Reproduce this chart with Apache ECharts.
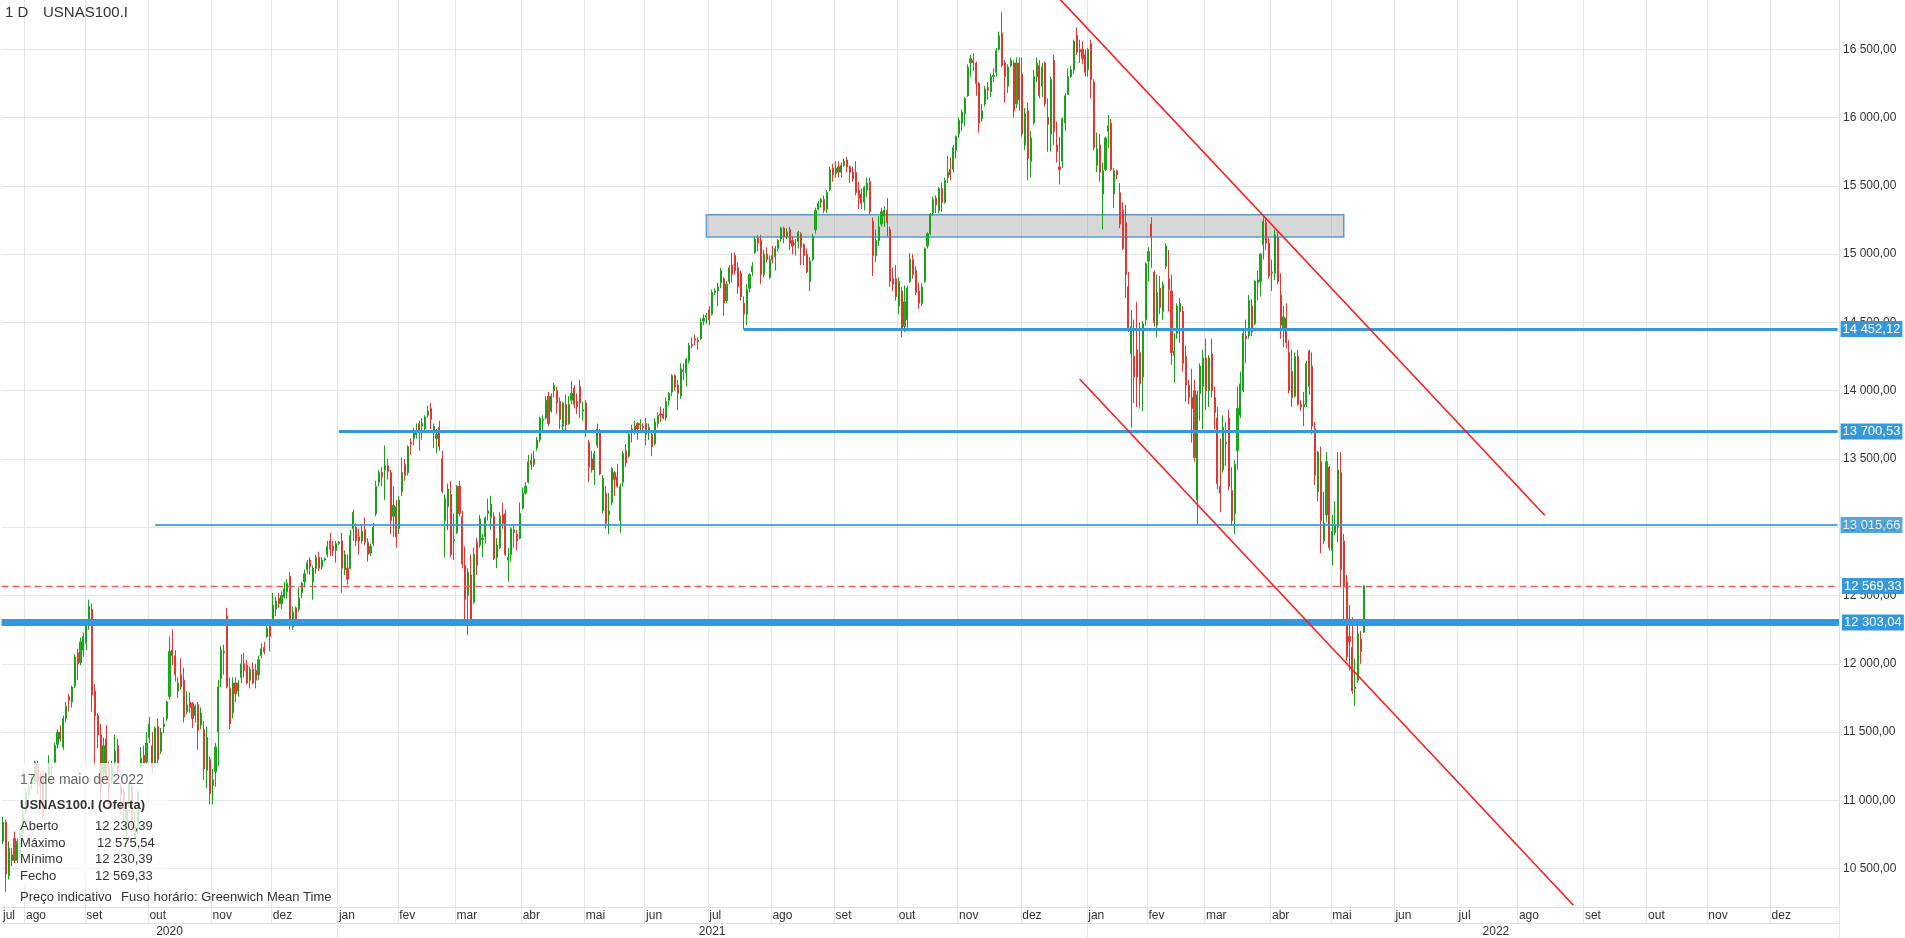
<!DOCTYPE html>
<html><head><meta charset="utf-8">
<script src="https://cdn.jsdelivr.net/npm/echarts@6/dist/echarts.min.js"></script>
<style>html,body{margin:0;padding:0;background:#fff;overflow:hidden}#c{width:1905px;height:938px}</style>
</head><body><div id="c"></div>
<script>
// ---- candles [open, close, low, high], one array per month ----
const m2020_07=[[10700,10840,10680,10880],[10840,10460,10330,10860],[10450,10650,10420,10700],[10560,10600,10520,10650],[10720,10560,10540,10770],[10560,10700,10540,10720],[10600,10760,10560,10790],[10760,10900,10700,10930]];
const m2020_08=[[10920,11060,10900,11090],[11040,11100,11010,11120],[11120,11150,11080,11200],[11140,11280,11120,11290],[11270,11140,11040,11290],[11180,11100,10980,11200],[11170,10890,10870,11220],[10940,11180,10930,11210],[11190,11250,11170,11330],[11250,11240,11180,11270],[11280,11400,11270,11420],[11410,11500,11380,11520],[11500,11450,11430,11550],[11390,11600,11370,11620],[11600,11690,11570,11720],[11760,11730,11650,11780],[11720,11830,11680,11840],[11840,12050,11820,12070],[12080,12000,11880,12110],[12010,12160,11990,12190],[12100,12200,12050,12230]];
const m2020_09=[[12150,12290,12100,12310],[12300,12420,12250,12470],[12400,11770,11650,12440],[11800,11620,11250,11850],[11620,11480,11380,11640],[11480,11090,11000,11560],[11200,11400,11150,11460],[11450,11180,11130,11550],[11240,11090,10950,11280],[11150,11240,11120,11290],[11280,11360,11250,11480],[11400,11200,11190,11450],[11100,11040,10900,11130],[11060,10940,10850,11080],[10800,10930,10680,10960],[10950,11120,10900,11150],[11100,10780,10760,11130],[10720,10810,10650,10920],[10800,11060,10760,11080],[11250,11310,11240,11390],[11330,11270,11250,11400],[11280,11420,11260,11500]];
const m2020_10=[[11460,11560,11420,11610],[11400,11240,11200,11500],[11270,11530,11250,11540],[11540,11300,11260,11600],[11360,11500,11340,11530],[11540,11560,11490,11610],[11600,11720,11580,11730],[11760,12090,11740,12200],[12100,12060,11990,12250],[12060,11920,11870,12100],[11800,11860,11750,11900],[11920,11830,11810,12040],[11880,11610,11570,11970],[11650,11700,11630,11800],[11720,11680,11640,11790],[11710,11600,11530,11720],[11620,11690,11570,11700],[11700,11510,11370,11720],[11550,11640,11520,11680],[11520,11230,11150,11580],[11220,11460,11090,11540],[11300,11050,10970,11320]];
const m2020_11=[[11110,11150,10970,11230],[11210,11390,11100,11420],[11500,11830,11250,11880],[11890,12100,11830,12130],[12080,12090,11920,12140],[12350,11830,11820,12410],[11820,11560,11520,11900],[11640,11860,11600,11900],[11860,11780,11720,11900],[11800,11860,11760,11880],[11900,12000,11860,12070],[12000,11950,11900,12080],[11990,11860,11850,12030],[11880,11960,11820,11980],[11960,11860,11850,12010],[11950,11880,11820,12000],[11920,12030,11880,12060],[12060,12110,12040,12150],[12120,12090,12070,12160],[12200,12260,12190,12290],[12290,12200,12090,12300]];
const m2020_12=[[12330,12430,12320,12520],[12400,12460,12350,12490],[12480,12440,12410,12520],[12440,12500,12400,12530],[12490,12550,12480,12600],[12530,12590,12480,12620],[12640,12290,12250,12670],[12270,12380,12250,12420],[12410,12330,12300,12420],[12400,12480,12380,12560],[12520,12590,12480,12600],[12600,12660,12560,12690],[12690,12740,12660,12760],[12760,12710,12650,12780],[12600,12700,12470,12720],[12700,12780,12660,12800],[12780,12700,12680,12820],[12710,12760,12690,12780],[12760,12770,12750,12780],[12800,12860,12780,12900],[12900,12840,12790,12960],[12860,12830,12790,12900],[12830,12880,12740,12900]];
const m2021_01=[[12880,12890,12870,12900],[12900,12700,12520,12960],[12690,12800,12650,12830],[12700,12620,12580,12800],[12700,12940,12690,12980],[12990,13110,12900,13130],[13000,12900,12860,13030],[12930,12900,12800,12990],[12900,12970,12880,13020],[12980,12890,12870,13070],[12890,12800,12750,12920],[12810,12860,12790,12880],[12880,13000,12860,13030],[13100,13300,13080,13340],[13330,13400,13300,13420],[13400,13370,13300,13440],[13420,13450,13200,13600],[13450,13410,13350,13500],[13400,13050,12950,13420],[13080,13160,12930,13300],[13150,12930,12850,13200]];
const m2021_02=[[12990,13200,12950,13230],[13260,13400,13230,13510],[13460,13380,13340,13500],[13400,13590,13380,13600],[13620,13610,13530,13650],[13650,13700,13600,13730],[13680,13710,13650,13760],[13760,13700,13560,13780],[13740,13760,13640,13800],[13720,13810,13690,13820],[13820,13850,13800,13890],[13870,13790,13720,13910],[13690,13740,13580,13760],[13650,13680,13540,13720],[13730,13590,13560,13780],[13500,13260,13250,13560],[13050,13210,12780,13240],[13150,13280,12980,13320],[13240,12800,12780,13340],[12900,12910,12760,13100]];
const m2021_03=[[12960,13300,12950,13310],[13300,13100,13080,13340],[13080,12730,12700,13120],[12720,12470,12320,12860],[12500,12670,12210,12700],[12650,12300,12280,12800],[12450,12800,12440,12850],[12890,12720,12650,12920],[12870,13060,12850,13090],[12910,12920,12780,12950],[12930,13070,12880,13080],[13100,13120,13050,13210],[13070,13170,12980,13230],[13080,12770,12760,13110],[12780,12870,12700,12920],[12850,13080,12840,13110],[13090,13030,12990,13180],[13100,12800,12790,13130],[12760,12780,12600,12850],[12800,12990,12750,13000],[12960,12980,12850,13020],[12950,12900,12830,12980],[12920,13100,12910,13180]];
const m2021_04=[[13140,13250,13130,13290],[13250,13300,13240,13330],[13330,13480,13320,13530],[13490,13460,13420,13540],[13460,13500,13440,13560],[13580,13640,13560,13660],[13640,13800,13620,13810],[13780,13790,13710,13820],[13800,13930,13790,13960],[13960,13760,13740,13990],[13850,13960,13840,13980],[14000,14040,13950,14060],[14000,13910,13830,14030],[13920,13790,13720,13950],[13740,13910,13710,13920],[13900,13750,13700,13970],[13760,13900,13750,13960],[13930,13980,13900,14070],[14020,13900,13870,14040],[13920,13880,13830,13980],[14030,13910,13800,14080],[13850,13860,13780,13920]];
const m2021_05=[[13910,13700,13660,13930],[13620,13440,13330,13640],[13500,13420,13400,13560],[13420,13540,13310,13560],[13600,13720,13580,13760],[13700,13390,13380,13720],[13120,13360,13100,13380],[13250,13030,12990,13300],[13090,13120,12950,13250],[13180,13430,13160,13440],[13400,13350,13230,13410],[13370,13300,13290,13460],[13050,13300,12960,13320],[13330,13540,13300,13560],[13560,13470,13440,13610],[13520,13680,13510,13700],[13720,13700,13620,13750],[13710,13740,13680,13780],[13760,13720,13640,13770],[13750,13760,13700,13790],[13740,13730,13710,13760]];
const m2021_06=[[13760,13680,13600,13800],[13690,13730,13640,13760],[13680,13590,13520,13700],[13610,13770,13600,13800],[13760,13820,13730,13840],[13830,13820,13770,13880],[13830,13800,13790,13870],[13800,13920,13780,13950],[13930,13980,13890,13990],[13990,14110,13960,14120],[14110,14030,14000,14120],[14040,13980,13860,14080],[13960,14160,13940,14200],[14140,14150,14080,14200],[14130,14230,14030,14240],[14220,14330,14200,14350],[14340,14330,14310,14390],[14380,14370,14330,14410],[14370,14360,14300,14390],[14380,14500,14370,14530],[14510,14530,14480,14560],[14540,14550,14490,14570]];
const m2021_07=[[14590,14520,14480,14620],[14560,14720,14550,14740],[14720,14730,14700,14750],[14730,14760,14620,14790],[14790,14880,14750,14900],[14820,14640,14550,14830],[14660,14780,14640,14800],[14800,14900,14780,14920],[14920,14850,14790,15010],[14990,14880,14850,15010],[14900,14760,14710,14940],[14860,14690,14660,14880],[14640,14560,14450,14690],[14560,14740,14480,14780],[14750,14850,14720,14860],[14870,14910,14840,14940],[15010,15110,15000,15130],[15120,15080,15020,15140],[15100,14850,14780,15140],[14850,15000,14830,15030],[15000,14960,14940,15050],[14830,14960,14820,14990]];
const m2021_08=[[14990,14960,14930,15060],[14980,15040,14880,15060],[15040,15100,15020,15110],[15110,15190,15090,15200],[15190,15130,15080,15200],[15130,15160,15110,15190],[15180,15080,15030,15200],[15100,15060,15000,15130],[15070,15080,14990,15110],[15090,15160,15040,15170],[15150,15050,14920,15160],[15070,14990,14920,15080],[15000,14870,14860,15040],[14800,14950,14730,14980],[14960,15130,14950,15150],[15180,15320,15150,15340],[15330,15370,15320,15390],[15380,15400,15340,15410],[15400,15320,15300,15430],[15330,15450,15300,15470],[15470,15620,15460,15640],[15630,15580,15530,15660]];
const m2021_09=[[15590,15630,15560,15680],[15640,15600,15560,15680],[15600,15650,15560,15670],[15650,15680,15640,15700],[15690,15640,15600,15710],[15640,15600,15520,15650],[15600,15550,15530,15640],[15600,15450,15430,15680],[15470,15410,15330,15530],[15440,15370,15330,15480],[15380,15490,15320,15500],[15470,15520,15420,15560],[15530,15310,15290,15560],[15240,14990,14840,15270],[14990,15100,14940,15180],[15100,15200,15060,15280],[15220,15310,15200,15340],[15280,15320,15200,15350],[15320,15230,15130,15410],[15180,14800,14760,15200],[14820,14780,14730,14900],[14820,14690,14660,14920]];
const m2021_10=[[14620,14800,14560,14830],[14730,14460,14390,14760],[14470,14650,14430,14770],[14520,14750,14440,14770],[14800,14960,14790,15010],[14960,14850,14820,15000],[14880,14720,14700,14910],[14730,14640,14600,14790],[14640,14760,14620,14790],[14800,15040,14790,15050],[15060,15150,15040,15160],[15150,15290,15140,15300],[15300,15400,15280,15420],[15410,15360,15300,15430],[15320,15480,15300,15490],[15480,15380,15310,15520],[15380,15540,15370,15560],[15560,15600,15520,15720],[15620,15580,15540,15710],[15620,15780,15600,15800],[15760,15860,15700,15870]];
const m2021_11=[[15880,15980,15850,16000],[15960,16040,15900,16060],[16030,16140,15940,16150],[16160,16370,16150,16390],[16400,16430,16300,16460],[16420,16400,16340,16470],[16400,16250,16160,16410],[16250,15960,15890,16260],[15990,16050,15970,16100],[16100,16210,16080,16230],[16220,16200,16130,16260],[16190,16300,16150,16320],[16300,16310,16260,16360],[16330,16490,16300,16510],[16500,16600,16490,16630],[16620,16380,16370,16770],[16400,16300,16110,16420],[16230,16370,16180,16390],[16380,16420,16370,16440],[16400,16050,16000,16420],[16100,16400,16070,16440],[16400,16130,16050,16440]];
const m2021_12=[[16320,15880,15860,16440],[15800,16030,15760,16070],[16050,15700,15540,16110],[15680,15850,15560,15900],[15960,16300,15950,16350],[16300,16400,16260,16440],[16380,16160,16140,16420],[16230,16370,16150,16400],[16400,16100,16080,16410],[16000,15950,15750,16140],[15880,16280,15750,16300],[16420,15900,15800,16460],[15800,15750,15670,15970],[15640,15620,15510,15860],[15680,15990,15630,16000],[15960,16160,15900,16180],[16170,16300,16170,16360],[16300,16350,16290,16380],[16350,16560,16320,16570],[16600,16480,16460,16660],[16500,16480,16400,16570],[16500,16430,16390,16560],[16460,16330,16300,16500]];
const m2022_01=[[16350,16500,16300,16510],[16540,16280,16140,16570],[16260,15780,15760,16280],[15650,15770,15600,15890],[15800,15600,15530,15880],[15440,15610,15180,15670],[15620,15850,15610,15860],[15900,15940,15780,16020],[15960,15620,15610,15990],[15440,15610,15340,15630],[15610,15580,15550,15620],[15450,15220,15190,15520],[15320,15040,15030,15380],[15230,14850,14680,15360],[14760,14440,14430,14870],[14270,14470,13730,14590],[14250,14100,13910,14520],[14300,14100,13880,14650],[14280,14050,13870,14500],[14100,14490,13850,14510],[14520,14930,14480,14940]];
const m2022_02=[[14950,15020,14800,15050],[15220,15130,14900,15270],[14870,14500,14470,14880],[14480,14720,14390,14850],[14750,14610,14560,14840],[14580,14780,14520,14800],[14910,15060,14890,15080],[14820,14740,14580,15030],[14730,14280,14190,14850],[14260,14290,14060,14420],[14420,14620,14380,14640],[14580,14640,14350,14680],[14580,14200,14140,14620],[14250,14040,13920,14330],[14040,13950,13900,14080],[13950,13870,13620,14160],[14000,13510,13480,14080],[13200,13970,13020,14000],[13980,14180,13780,14200],[14030,14240,13720,14300]];
const m2022_03=[[14240,14000,13860,14380],[14000,14240,13880,14260],[14270,14000,13950,14380],[13950,13840,13720,14030],[13800,13320,13280,13880],[13300,13250,13110,13650],[13420,13730,13400,13820],[13610,13620,13450,13770],[13800,13300,13270,13860],[13270,13050,13010,13440],[13100,13460,12950,13490],[13560,13870,13420,14030],[13820,14050,13800,14140],[14000,14420,13990,14440],[14400,14380,14200,14520],[14400,14660,14380,14700],[14620,14430,14400,14670],[14490,14800,14480,14810],[14790,14810,14660,14880],[14800,15000,14690,15010],[15070,15240,14960,15270],[15230,15080,15030,15260],[15080,14840,14820,15120]];
const m2022_04=[[14870,14860,14730,14960],[14860,15140,14810,15180],[15120,14800,14780,15170],[14700,14480,14380,14860],[14460,14540,14320,14620],[14530,14350,14310,14640],[14280,14000,13980,14370],[14140,13950,13880,14300],[13960,14250,13950,14280],[14250,13900,13890,14300],[13900,13880,13850,13930],[13880,13900,13740,13990],[13900,14200,13880,14220],[14290,14030,13970,14300],[14180,13740,13680,14280],[13720,13380,13310,13770],[13260,13550,13190,13560],[13480,13050,12810,13590],[12900,13030,12880,13260],[13090,13480,13040,13550],[13440,12850,12830,13450]];
const m2022_05=[[12830,12970,12720,13090],[12960,13010,12940,13190],[13000,13420,12890,13550],[13400,12690,12560,13550],[12900,12560,12320,12950],[12600,12050,12020,12650],[12200,12160,11950,12430],[12120,11800,11780,12340],[11820,11830,11690,12040],[11880,12220,11860,12310],[12180,12090,12000,12240],[12230.39,12569.33,12230.39,12575.54]];

// ---- drawn levels / tools ----
const levelValues = [14452.12, 13700.53, 13015.66];
const levelStarts = ['2021-07-19', '2021-01-01', '2020-10-05'];
const levelWidths = [3, 3, 2];
const supportValue = 12303.04;
const lastPrice = 12569.33;
const zoneTop = 15289, zoneBottom = 15126;
const zoneFrom = '2021-06-30', zoneTo = '2022-05-06';
const upperTrend = [['2021-12-08', 17049], ['2022-08-12', 13088]];
const lowerTrend = [['2021-12-29', 14086], ['2022-08-26', 10232]];

// ---- axis settings ----
const monthNames = ['jan','fev','mar','abr','mai','jun','jul','ago','set','out','nov','dez'];
const startDate = '2020-07-22';
const categoryCount = 640;
const lastLabelledDay = '2022-12-31';
const Y_MIN = 10219, Y_MAX = 16861;

function weekdays(start, n) {
  const out = []; const d = new Date(start + 'T00:00:00Z');
  while (out.length < n) { const w = d.getUTCDay(); if (w !== 0 && w !== 6) out.push(d.toISOString().slice(0, 10)); d.setUTCDate(d.getUTCDate() + 1); }
  return out;
}
const categories = weekdays(startDate, categoryCount);
const months = {'2020-07':m2020_07,'2020-08':m2020_08,'2020-09':m2020_09,'2020-10':m2020_10,'2020-11':m2020_11,'2020-12':m2020_12,
 '2021-01':m2021_01,'2021-02':m2021_02,'2021-03':m2021_03,'2021-04':m2021_04,'2021-05':m2021_05,'2021-06':m2021_06,'2021-07':m2021_07,
 '2021-08':m2021_08,'2021-09':m2021_09,'2021-10':m2021_10,'2021-11':m2021_11,'2021-12':m2021_12,'2022-01':m2022_01,'2022-02':m2022_02,
 '2022-03':m2022_03,'2022-04':m2022_04,'2022-05':m2022_05};
const byDate = {};
Object.keys(months).forEach(k => { const days = categories.filter(c => c.startsWith(k)); months[k].forEach((v, i) => { if (days[i]) byDate[days[i]] = v; }); });
let lastIdx = 0; categories.forEach((c, i) => { if (byDate[c]) lastIdx = i; });
const candles = categories.slice(0, lastIdx + 1).map(c => byDate[c] || '-');

const lastI = categories.length - 1;
const monthStart = new Set(); categories.forEach((c, i) => { if (c <= lastLabelledDay && (i === 0 || c.slice(0, 7) !== categories[i - 1].slice(0, 7))) monthStart.add(i); });
const yearStart = new Set(); categories.forEach((c, i) => { if (c <= lastLabelledDay && i > 0 && c.slice(0, 4) !== categories[i - 1].slice(0, 4)) yearStart.add(i); });
const yearLabelIdx = [58, 247, 520];
const lastCat = categories[lastI];

function fmt(v) { const s = Number(v).toFixed(2).split('.'); return s[0].replace(/\B(?=(\d{3})+(?!\d))/g, ' ') + ',' + s[1]; }

const FONT = '"Liberation Sans", Arial, Helvetica, sans-serif';
const BLUE = '#3598db';
const GRID = '#e5e5e5';
const boxLabel = (v) => ({show: true, position: 'end', distance: 3, formatter: fmt(v), color: '#fff', backgroundColor: BLUE,
  padding: [2, 2, 1, 2], fontSize: 13, fontFamily: FONT, lineHeight: 13});

const markLines = levelValues.map((v, i) => [
  {coord: [levelStarts[i], v], lineStyle: {color: BLUE, width: levelWidths[i], type: 'solid', opacity: i === 2 ? 0.85 : 1}, label: boxLabel(v)},
  {coord: [lastCat, v]}
]);
markLines.push({yAxis: supportValue, lineStyle: {color: BLUE, width: 7, type: 'solid'}, label: boxLabel(supportValue)});
markLines.push({yAxis: lastPrice, lineStyle: {color: '#f25a5a', width: 1.3, type: [7, 4]}, label: boxLabel(lastPrice)});

const chart = echarts.init(document.getElementById('c'));
chart.setOption({
  animation: false,
  backgroundColor: '#ffffff',
  grid: {left: 0, right: 66, top: 0, bottom: 31},
  xAxis: [
    {type: 'category', data: categories, boundaryGap: true,
     axisLine: {show: true, lineStyle: {color: '#e0e0e0'}},
     axisTick: {show: true, interval: (i) => monthStart.has(i) && i > 0, length: 16, lineStyle: {color: GRID}},
     axisLabel: {interval: (i) => monthStart.has(i), formatter: (v) => monthNames[+v.slice(5, 7) - 1], align: 'left',
                 margin: 3, color: '#333', fontSize: 12, fontFamily: FONT},
     splitLine: {show: true, interval: (i) => monthStart.has(i) && i > 0, lineStyle: {color: GRID}}},
    {type: 'category', data: categories, boundaryGap: true, position: 'bottom', offset: 16,
     axisLine: {show: true, lineStyle: {color: '#e0e0e0'}},
     axisTick: {show: true, interval: (i) => yearStart.has(i), length: 15, lineStyle: {color: GRID}},
     axisLabel: {interval: (i) => yearLabelIdx.includes(i), formatter: (v) => v.slice(0, 4), margin: 3,
                 color: '#333', fontSize: 12, fontFamily: FONT},
     splitLine: {show: false}}
  ],
  yAxis: {type: 'value', position: 'right', min: Y_MIN, max: Y_MAX, splitNumber: 13,
    axisLine: {show: true, lineStyle: {color: '#e0e0e0'}}, axisTick: {show: false},
    axisLabel: {formatter: fmt, color: '#333', fontSize: 12, margin: 4, fontFamily: FONT, showMinLabel: false, showMaxLabel: false},
    splitLine: {show: true, showMinLine: false, showMaxLine: false, lineStyle: {color: GRID}}},
  series: [
    {type: 'candlestick', data: candles, barWidth: 1.6, z: 2,
     itemStyle: {color: '#22b022', color0: '#ee4440', borderColor: '#14a514', borderColor0: '#e8342f', borderWidth: 1},
     markArea: {silent: true, itemStyle: {color: 'rgba(150,150,150,0.38)', borderColor: '#5b9bd5', borderWidth: 1.5},
       data: [[{coord: [zoneFrom, zoneTop]}, {coord: [zoneTo, zoneBottom]}]]},
     markLine: {silent: true, symbol: ['none', 'none'], animation: false, data: markLines}},
    {type: 'line', data: upperTrend, symbol: 'none', silent: true, z: 6, clip: true, lineStyle: {color: '#ff1a1a', width: 1.6}},
    {type: 'line', data: lowerTrend, symbol: 'none', silent: true, z: 6, clip: true, lineStyle: {color: '#ff1a1a', width: 1.6}}
  ],
  graphic: [
    {type: 'text', x: 5, y: 13, z: 100, style: {text: '1 D', fill: '#333', fontSize: 15, fontFamily: FONT, verticalAlign: 'middle'}},
    {type: 'text', x: 43, y: 13, z: 100, style: {text: 'USNAS100.I', fill: '#333', fontSize: 15, fontFamily: FONT, verticalAlign: 'middle'}},
    {type: 'rect', z: 100, shape: {x: 18, y: 763, width: 150, height: 124}, style: {fill: 'rgba(255,255,255,0.78)'}},
    {type: 'text', x: 20, y: 780, z: 101, style: {text: '17 de maio de 2022', fill: '#666', fontSize: 14, fontFamily: FONT, verticalAlign: 'middle'}},
    {type: 'text', x: 20, y: 805, z: 101, style: {text: 'USNAS100.I (Oferta)', fill: '#333', fontSize: 13, fontWeight: 'bold', fontFamily: FONT, verticalAlign: 'middle'}},
    {type: 'text', x: 20, y: 826, z: 101, style: {text: 'Aberto', fill: '#333', fontSize: 13, fontFamily: FONT, verticalAlign: 'middle'}},
    {type: 'text', x: 95, y: 826, z: 101, style: {text: '12 230,39', fill: '#333', fontSize: 13, fontFamily: FONT, verticalAlign: 'middle'}},
    {type: 'text', x: 20, y: 843, z: 101, style: {text: 'Máximo', fill: '#333', fontSize: 13, fontFamily: FONT, verticalAlign: 'middle'}},
    {type: 'text', x: 97, y: 843, z: 101, style: {text: '12 575,54', fill: '#333', fontSize: 13, fontFamily: FONT, verticalAlign: 'middle'}},
    {type: 'text', x: 20, y: 859, z: 101, style: {text: 'Mínimo', fill: '#333', fontSize: 13, fontFamily: FONT, verticalAlign: 'middle'}},
    {type: 'text', x: 95, y: 859, z: 101, style: {text: '12 230,39', fill: '#333', fontSize: 13, fontFamily: FONT, verticalAlign: 'middle'}},
    {type: 'text', x: 20, y: 876, z: 101, style: {text: 'Fecho', fill: '#333', fontSize: 13, fontFamily: FONT, verticalAlign: 'middle'}},
    {type: 'text', x: 95, y: 876, z: 101, style: {text: '12 569,33', fill: '#333', fontSize: 13, fontFamily: FONT, verticalAlign: 'middle'}},
    {type: 'text', x: 20, y: 897, z: 101, style: {text: 'Preço indicativo', fill: '#333', fontSize: 13, fontFamily: FONT, verticalAlign: 'middle'}},
    {type: 'text', x: 121, y: 897, z: 101, style: {text: 'Fuso horário: Greenwich Mean Time', fill: '#333', fontSize: 13, fontFamily: FONT, verticalAlign: 'middle'}}
  ]
});
</script>
</body></html>
